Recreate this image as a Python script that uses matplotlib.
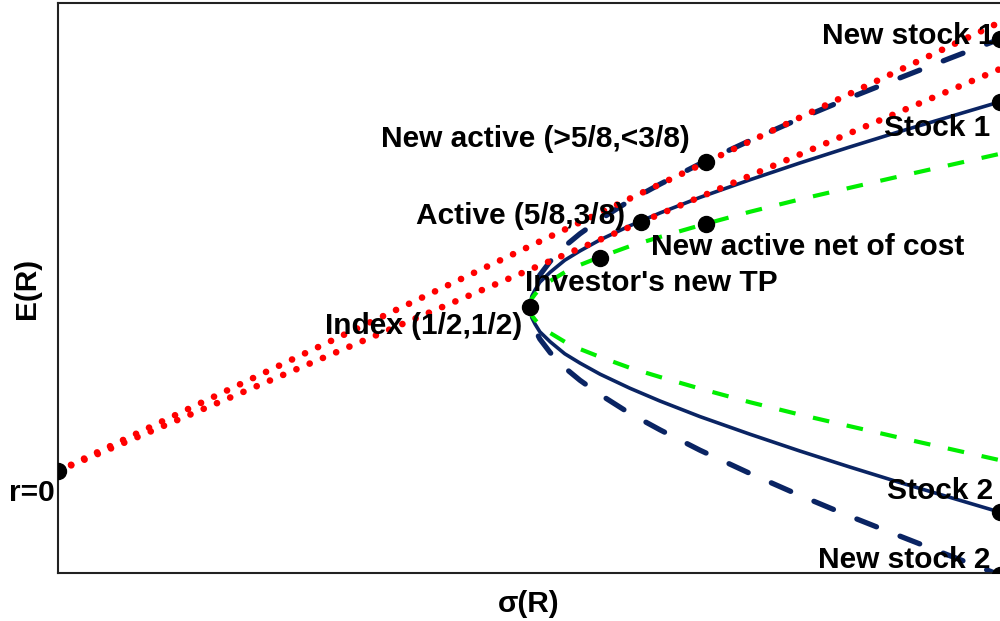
import matplotlib.pyplot as plt

plt.rcParams['font.family'] = ['Liberation Sans', 'DejaVu Sans']
plt.rcParams['font.weight'] = 'bold'

# sigma grid (%), shared by the frontier branches
sigma = [10.02, 10.06, 10.13, 10.23, 10.45, 10.76, 11.08, 11.51, 12.14,
         12.78, 13.63, 14.69, 15.75, 16.81, 17.88, 18.94, 20.0]

# original frontier (solid)
old_up = [4.10, 4.37, 4.53, 4.72, 4.97, 5.27, 5.50, 5.78, 6.13,
          6.45, 6.84, 7.28, 7.70, 8.10, 8.49, 8.86, 9.23]
old_dn = [4.10, 3.83, 3.67, 3.48, 3.23, 2.93, 2.70, 2.42, 2.07,
          1.75, 1.36, 0.92, 0.50, 0.10, -0.29, -0.66, -1.03]

# new frontier (dashed)
new_up = [4.10, 4.46, 4.67, 4.90, 5.24, 5.62, 5.93, 6.29, 6.76,
          7.17, 7.68, 8.26, 8.81, 9.33, 9.83, 10.32, 10.80]
new_dn = [4.10, 3.74, 3.53, 3.30, 2.96, 2.58, 2.27, 1.91, 1.44,
          1.03, 0.52, -0.06, -0.61, -1.13, -1.63, -2.12, -2.60]

# new frontier net of cost (green)
net_up = [4.10, 4.31, 4.42, 4.56, 4.75, 4.97, 5.15, 5.35, 5.62,
          5.85, 6.14, 6.48, 6.79, 7.08, 7.37, 7.65, 7.93]
net_dn = [4.10, 3.89, 3.78, 3.64, 3.45, 3.23, 3.05, 2.85, 2.58,
          2.35, 2.06, 1.72, 1.41, 1.12, 0.83, 0.55, 0.27]

# capital allocation lines from r=0
cal_sigma = [0.0, 20.0]
cal_active = [0.0, 10.05]
cal_new = [0.0, 11.22]

# labelled points
pt_labels = ["r=0", "Index (1/2,1/2)", "Active (5/8,3/8)", "New active (>5/8,<3/8)",
             "New active net of cost", "Investor's new TP",
             "Stock 1", "New stock 1", "Stock 2", "New stock 2"]
pt_sigma = [0.0, 10.02, 12.38, 13.76, 13.76, 11.51, 20.0, 20.0, 20.0, 20.0]
pt_E = [0.0, 4.10, 6.22, 7.72, 6.17, 5.33, 9.23, 10.80, -1.03, -2.60]
pt_offset = [(-2, -16), (-5.5, -13.5), (-11.5, 4.3), (-11.5, 16.5),
             (-40, -16.5), (-54, -18), (-7, -19), (-4, 2), (-5, 15), (-7, 11)]
pt_ha = ['right', 'right', 'right', 'right', 'left', 'left',
         'right', 'right', 'right', 'right']

navy = '#0a2463'
fig = plt.figure(figsize=(10, 6.21), dpi=100)
ax = fig.add_axes([0.058, 48 / 621, 0.942, 570 / 621])

ax.plot(sigma, old_up, '-', color=navy, lw=2.6)
ax.plot(sigma, old_dn, '-', color=navy, lw=2.6)
for e in (new_up, new_dn):
    ax.plot(sigma, e, color=navy, lw=3.8, linestyle=(3.0, (4.0, 4.8)),
            dash_capstyle='round')
for e in (net_up, net_dn):
    ax.plot(sigma, e, color='#00ee00', lw=3.0, linestyle=(0, (4.0, 4.3)))
for e in (cal_active, cal_new):
    ax.plot(cal_sigma, e, color='red', lw=4.8, linestyle=(0, (0.01, 2.15)),
            dash_capstyle='round', zorder=3)

ax.plot(pt_sigma, pt_E, 'o', color='black', ms=11.5, zorder=4)
for lab, s, e, off, ha in zip(pt_labels, pt_sigma, pt_E, pt_offset, pt_ha):
    ax.annotate(lab, (s, e), xytext=off, textcoords='offset points',
                ha=ha, va='center', fontsize=21.5, fontweight='bold',
                annotation_clip=False, zorder=5)

ax.set_xlim(0, 20)
ax.set_ylim(-2.55, 11.7)
ax.set_xticks([])
ax.set_yticks([])
ax.spines['right'].set_visible(False)
for s in ('top', 'left', 'bottom'):
    ax.spines[s].set_linewidth(1.5)
    ax.spines[s].set_color('#222222')
ax.set_xlabel("σ(R)", fontsize=21.5, fontweight='bold', labelpad=12)
ax.set_ylabel("E(R)", fontsize=21.5, fontweight='bold', labelpad=12)

fig.savefig("out.png", dpi=100)
